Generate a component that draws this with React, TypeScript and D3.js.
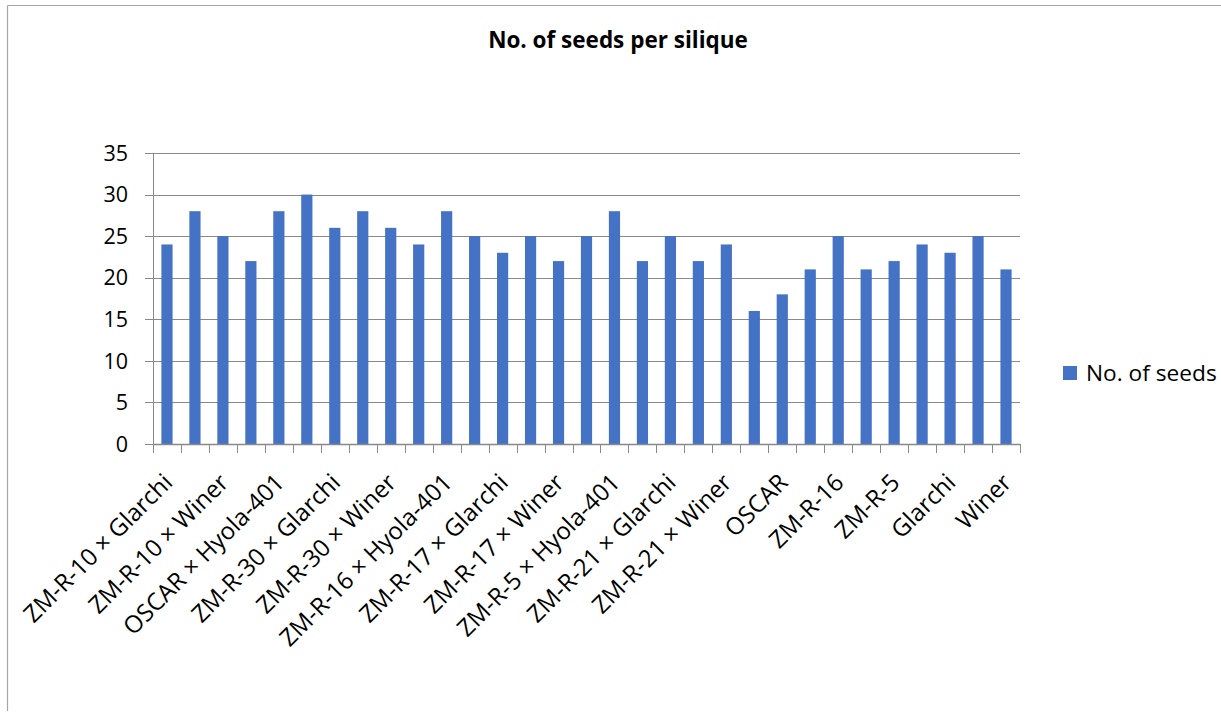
import React from "react";
import * as d3 from "d3";

const categories: string[] = [
  "ZM-R-10 × Glarchi",
  "ZM-R-10 × Hyola-401",
  "ZM-R-10 × Winer",
  "OSCAR × Glarchi",
  "OSCAR × Hyola-401",
  "OSCAR × Winer",
  "ZM-R-30 × Glarchi",
  "ZM-R-30 × Hyola-401",
  "ZM-R-30 × Winer",
  "ZM-R-16 × Glarchi",
  "ZM-R-16 × Hyola-401",
  "ZM-R-16 × Winer",
  "ZM-R-17 × Glarchi",
  "ZM-R-17 × Hyola-401",
  "ZM-R-17 × Winer",
  "ZM-R-5 × Glarchi",
  "ZM-R-5 × Hyola-401",
  "ZM-R-5 × Winer",
  "ZM-R-21 × Glarchi",
  "ZM-R-21 × Hyola-401",
  "ZM-R-21 × Winer",
  "ZM-R-10",
  "OSCAR",
  "ZM-R-30",
  "ZM-R-16",
  "ZM-R-17",
  "ZM-R-5",
  "ZM-R-21",
  "Glarchi",
  "Hyola-401",
  "Winer",
];

const seeds: number[] = [
  24, 28, 25, 22, 28, 30, 26, 28, 26, 24, 28, 25, 23, 25, 22, 25, 28, 22, 25,
  22, 24, 16, 18, 21, 25, 21, 22, 24, 23, 25, 21,
];

const yTicks: number[] = [0, 5, 10, 15, 20, 25, 30, 35];
const seriesName = "No. of seeds";
const title = "No. of seeds per silique";

const W = 1221;
const H = 713;
const plotLeft = 153;
const plotRight = 1020;
const plotTop = 153;
const plotBottom = 444;
const FONT = "'Open Sans', sans-serif";
const BAR = "#4472C4";
const GRID = "#898989";

export default function App() {
  const x = d3
    .scaleBand<string>()
    .domain(categories)
    .range([plotLeft, plotRight])
    .paddingInner(0.6)
    .paddingOuter(0.3);
  const y = d3.scaleLinear().domain([0, 35]).range([plotBottom, plotTop]);

  const boundaries = d3
    .range(categories.length + 1)
    .map((i) => plotLeft + i * ((plotRight - plotLeft) / categories.length));

  return (
    <svg
      width={W}
      height={H}
      style={{ position: "absolute", left: 0, top: 0, display: "block" }}
    >
      <rect x={0} y={0} width={W} height={H} fill="#fff" />
      <line x1={7.5} y1={5.5} x2={W} y2={5.5} stroke="#a6a6a6" strokeWidth={1.2} />
      <line x1={7.5} y1={5.5} x2={7.5} y2={711} stroke="#a6a6a6" strokeWidth={1.2} />

      <text
        x={618}
        y={48}
        textAnchor="middle"
        fontFamily={FONT}
        fontWeight="bold"
        fontSize={22.5}
        fill="#000"
      >
        {title}
      </text>

      {yTicks.map((t) => (
        <g key={t}>
          <line
            x1={plotLeft - 8}
            x2={plotRight}
            y1={Math.round(y(t)) + 0.5}
            y2={Math.round(y(t)) + 0.5}
            stroke={GRID}
            strokeWidth={1}
          />
          <text
            x={128}
            y={y(t)}
            dy="0.36em"
            textAnchor="end"
            fontFamily={FONT}
            fontSize={21.5}
            fill="#000"
          >
            {t}
          </text>
        </g>
      ))}

      {categories.map((c, i) => (
        <rect
          key={c}
          x={x(c)!}
          y={y(seeds[i])}
          width={x.bandwidth()}
          height={plotBottom - y(seeds[i])}
          fill={BAR}
        />
      ))}

      <line x1={plotLeft + 0.5} x2={plotLeft + 0.5} y1={plotTop} y2={plotBottom + 9} stroke={GRID} strokeWidth={1} />
      <line x1={plotLeft} x2={plotRight} y1={plotBottom + 0.5} y2={plotBottom + 0.5} stroke={GRID} strokeWidth={1.5} />
      {boundaries.map((b, i) => (
        <line
          key={i}
          x1={Math.round(b) + 0.5}
          x2={Math.round(b) + 0.5}
          y1={plotBottom}
          y2={plotBottom + 9}
          stroke={GRID}
          strokeWidth={1}
        />
      ))}

      {categories.map((c, i) =>
        i % 2 === 0 ? (
          <text
            key={c}
            transform={`translate(${x(c)! + x.bandwidth() / 2 + 1},${plotBottom + 34}) rotate(-45)`}
            textAnchor="end"
            dy="0.35em"
            fontFamily={FONT}
            fontSize={24}
            fill="#000"
          >
            {c}
          </text>
        ) : null
      )}

      <rect x={1063} y={366} width={14} height={14} fill={BAR} />
      <text x={1086} y={373} dy="0.36em" fontFamily={FONT} fontSize={22.7} fill="#000">
        {seriesName}
      </text>
    </svg>
  );
}
